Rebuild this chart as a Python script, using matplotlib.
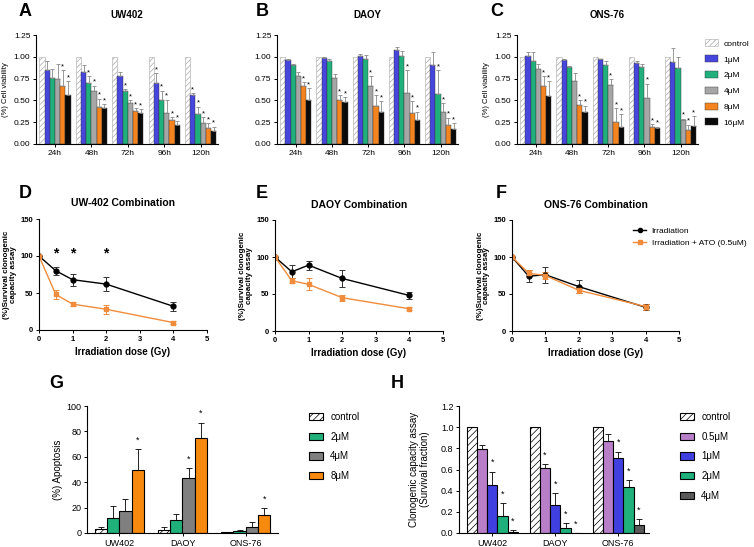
import numpy as np
import matplotlib
matplotlib.use("Agg")
import matplotlib.pyplot as plt
from matplotlib.patches import Patch
from matplotlib.lines import Line2D

plt.rcParams['font.family'] = ['Liberation Sans', 'DejaVu Sans']
plt.rcParams['hatch.linewidth'] = 0.5

# ---- data: viability (A-C), rows = time point, cols = dose ----
times = ['24h', '48h', '72h', '96h', '120h']
via_doses = ['control', '1\u03bcM', '2\u03bcM', '4\u03bcM', '8\u03bcM', '16\u03bcM']

uw402_mean = [[1.0, 0.85, 0.76, 0.75, 0.66, 0.56],
              [1.0, 0.83, 0.70, 0.61, 0.43, 0.41],
              [1.0, 0.78, 0.61, 0.47, 0.38, 0.35],
              [1.0, 0.70, 0.51, 0.36, 0.27, 0.22],
              [1.0, 0.56, 0.34, 0.24, 0.18, 0.15]]
uw402_err = [[0, 0.10, 0.10, 0.17, 0.19, 0.16],
             [0, 0.08, 0.08, 0.06, 0.09, 0.05],
             [0, 0.05, 0.02, 0.03, 0.03, 0.05],
             [0, 0.11, 0.10, 0.15, 0.04, 0.04],
             [0, 0.02, 0.09, 0.07, 0.06, 0.05]]
uw402_sig = [[0, 0, 0, 0, 1, 1],
             [0, 0, 1, 1, 1, 1],
             [0, 0, 1, 1, 1, 1],
             [0, 1, 1, 1, 1, 1],
             [0, 1, 1, 1, 1, 1]]

daoy_mean = [[1.0, 0.96, 0.91, 0.78, 0.66, 0.51],
             [1.0, 0.99, 0.95, 0.76, 0.51, 0.48],
             [1.0, 1.01, 0.98, 0.67, 0.44, 0.37],
             [1.0, 1.08, 1.01, 0.59, 0.36, 0.27],
             [1.0, 0.91, 0.57, 0.37, 0.22, 0.17]]
daoy_err = [[0, 0.01, 0.01, 0.05, 0.05, 0.13],
            [0, 0.01, 0.03, 0.04, 0.05, 0.06],
            [0, 0.02, 0.04, 0.11, 0.12, 0.12],
            [0, 0.03, 0.06, 0.26, 0.13, 0.10],
            [0, 0.14, 0.28, 0.10, 0.08, 0.07]]
daoy_sig = [[0, 0, 0, 0, 1, 1],
            [0, 0, 0, 0, 1, 1],
            [0, 0, 0, 1, 1, 1],
            [0, 0, 0, 1, 1, 1],
            [0, 0, 1, 1, 1, 1]]

ons_mean = [[1.0, 1.01, 0.95, 0.86, 0.66, 0.55],
            [1.0, 0.96, 0.88, 0.72, 0.45, 0.37],
            [1.0, 0.97, 0.91, 0.68, 0.25, 0.20],
            [1.0, 0.93, 0.88, 0.53, 0.19, 0.18],
            [1.0, 0.94, 0.87, 0.27, 0.16, 0.21]]
ons_err = [[0, 0.05, 0.10, 0.06, 0.12, 0.17],
           [0, 0.01, 0.01, 0.09, 0.05, 0.07],
           [0, 0.01, 0.04, 0.06, 0.16, 0.14],
           [0, 0.02, 0.04, 0.16, 0.04, 0.02],
           [0, 0.16, 0.13, 0.02, 0.06, 0.11]]
ons_sig = [[0, 0, 0, 0, 1, 1],
           [0, 0, 0, 0, 1, 1],
           [0, 0, 0, 1, 1, 1],
           [0, 0, 0, 1, 1, 1],
           [0, 0, 0, 1, 1, 1]]

# ---- data: combination with irradiation (D-F) ----
gy = [0, 0.5, 1, 2, 4]
uw_irr = [100, 80, 68, 62, 32]
uw_irr_err = [0, 5, 8, 9, 6]
uw_ato = [100, 48, 35, 28, 10]
uw_ato_err = [0, 6, 3, 6, 2]
daoy_irr = [100, 80, 89, 71, 48]
daoy_irr_err = [0, 9, 6, 12, 5]
daoy_ato = [100, 68, 63, 45, 30]
daoy_ato_err = [0, 3, 8, 4, 2]
ons_irr = [100, 74, 76, 60, 32]
ons_irr_err = [0, 8, 11, 9, 4]
ons_ato = [100, 78, 75, 55, 33]
ons_ato_err = [0, 4, 5, 4, 4]
uw_star_x = [0.5, 1, 2]

# ---- data: apoptosis (G), rows = dose, cols = cell line ----
cells = ['UW402', 'DAOY', 'ONS-76']
apo_doses = ['control', '2\u03bcM', '4\u03bcM', '8\u03bcM']
apo_mean = [[3, 2.5, 0.7], [12, 10, 1.5], [17, 43, 5], [50, 75, 14]]
apo_err = [[2, 2, 0.3], [9, 5, 1], [10, 8, 4], [16, 12, 5.5]]
apo_sig = [[0, 0, 0], [0, 0, 0], [0, 1, 0], [1, 1, 1]]

# ---- data: clonogenic (H) ----
clo_doses = ['control', '0.5\u03bcM', '1\u03bcM', '2\u03bcM', '4\u03bcM']
clo_mean = [[1, 1, 1], [0.79, 0.61, 0.87], [0.45, 0.26, 0.71], [0.16, 0.05, 0.43], [0.01, 0.0, 0.08]]
clo_err = [[0, 0, 0], [0.04, 0.04, 0.07], [0.13, 0.12, 0.06], [0.12, 0.04, 0.07], [0.02, 0, 0.05]]
clo_sig = [[0, 0, 0], [0, 1, 0], [1, 1, 1], [1, 1, 1], [1, 1, 1]]

W, H = 754, 547
fig = plt.figure(figsize=(W / 100, H / 100), dpi=100)


def px_axes(x0, y0, x1, y1):
    return fig.add_axes([x0 / W, 1 - y1 / H, (x1 - x0) / W, (y1 - y0) / H])


def letter(x, y, s):
    fig.text(x / W, 1 - y / H, s, fontsize=13, fontweight='bold', ha='left', va='top')


def style(ax, size=5, bold=False):
    for s in ['top', 'right']:
        ax.spines[s].set_visible(False)
    for s in ['left', 'bottom']:
        ax.spines[s].set_linewidth(0.8)
    ax.tick_params(labelsize=size, length=2.5, width=0.7, pad=1.5)
    if bold:
        for t in ax.get_xticklabels() + ax.get_yticklabels():
            t.set_fontweight('bold')


via_colors = ['white', '#4646dc', '#1fb07c', '#a6a6a6', '#f5841f', '#0a0a0a']


def viability(ax, mean, err, sig, title, ylabel):
    w = 0.143
    x = np.arange(len(times))
    mean = np.array(mean)
    err = np.array(err)
    for j in range(len(via_doses)):
        xs = x + (j - 2.5) * w
        if j == 0:
            ax.bar(xs, mean[:, j], w, color='white', edgecolor='#a8a8a8', hatch='//////', lw=0.4)
        else:
            ax.bar(xs, mean[:, j], w, color=via_colors[j], edgecolor='#333333', lw=0.3)
            ax.errorbar(xs, mean[:, j], yerr=[np.zeros(len(x)), err[:, j]], fmt='none',
                        ecolor='#888888', elinewidth=0.6, capsize=1.2, capthick=0.6)
        for i in range(len(x)):
            if sig[i][j]:
                ax.text(xs[i], mean[i, j] + err[i, j] + 0.04, '*', fontsize=5.5,
                        ha='center', va='center')
    ax.set_xlim(-0.52, 4.48)
    ax.set_ylim(0, 1.25)
    ax.set_yticks([0, 0.25, 0.5, 0.75, 1.0, 1.25])
    ax.set_yticklabels(['0.00', '0.25', '0.50', '0.75', '1.00', '1.25'])
    ax.set_xticks(x)
    ax.set_xticklabels(times)
    style(ax, 6)
    ax.set_title(title, fontsize=7, fontweight='bold', pad=12)
    if ylabel:
        ax.set_ylabel('(%) Cell viability', fontsize=5.5)
        ax.yaxis.set_label_coords(-0.15, 0.5)


axA = px_axes(36, 35, 218, 144)
viability(axA, uw402_mean, uw402_err, uw402_sig, 'UW402', True)
axB = px_axes(277, 35, 458, 144)
viability(axB, daoy_mean, daoy_err, daoy_sig, 'DAOY', False)
axC = px_axes(517, 35, 698, 144)
viability(axC, ons_mean, ons_err, ons_sig, 'ONS-76', True)

handles = [Patch(facecolor='white', edgecolor='#a8a8a8', hatch='//////', lw=0.4)]
handles += [Patch(facecolor=c, edgecolor='#333333', lw=0.3) for c in via_colors[1:]]
fig.legend(handles, via_doses, loc='upper left', bbox_to_anchor=(702 / W, 1 - 36 / H),
           frameon=False, fontsize=6, handlelength=1.5, handleheight=0.9,
           labelspacing=0.9, handletextpad=0.7, borderaxespad=0)

orange = '#f08c3c'


def combo(ax, irr, irr_err, ato, ato_err, title, stars):
    ax.errorbar(gy, irr, yerr=irr_err, color='black', marker='o', ms=3.5, lw=1,
                elinewidth=0.7, capsize=2, capthick=0.7, ecolor='#333333',
                label='Irradiation')
    ax.errorbar(gy, ato, yerr=ato_err, color=orange, marker='s', ms=3.5, lw=1,
                elinewidth=0.7, capsize=2, capthick=0.7, label='Irradiation + ATO (0.5uM)')
    for sx in stars:
        ax.text(sx, 103, '*', fontsize=10, fontweight='bold', ha='center', va='center')
    ax.set_xlim(0, 5)
    ax.set_ylim(0, 150)
    ax.set_xticks([0, 1, 2, 3, 4, 5])
    ax.set_yticks([0, 50, 100, 150])
    style(ax, 5.5, bold=True)
    ax.set_title(title, fontsize=7.5, fontweight='bold', pad=9)
    ax.set_xlabel('Irradiation dose (Gy)', fontsize=7, fontweight='bold', labelpad=3)
    ax.set_ylabel('(%)Survival clonogenic\ncapacity assay', fontsize=5.8,
                  fontweight='bold', linespacing=0.95)
    ax.yaxis.set_label_coords(-0.13, 0.5)


axD = px_axes(39, 219, 207, 330)
combo(axD, uw_irr, uw_irr_err, uw_ato, uw_ato_err, 'UW-402 Combination', uw_star_x)
axE = px_axes(275, 220, 443, 331)
combo(axE, daoy_irr, daoy_irr_err, daoy_ato, daoy_ato_err, 'DAOY Combination', [])
axF = px_axes(512, 220, 679, 331)
combo(axF, ons_irr, ons_irr_err, ons_ato, ons_ato_err, 'ONS-76 Combination', [])
lh = [Line2D([], [], color='black', marker='o', ms=3, lw=1),
      Line2D([], [], color=orange, marker='s', ms=3, lw=1)]
fig.legend(lh, ['Irradiation', 'Irradiation + ATO (0.5uM)'], loc='upper left',
           bbox_to_anchor=(630 / W, 1 - 224 / H), frameon=False, fontsize=6,
           handlelength=1.5, labelspacing=0.5, handletextpad=0.7, borderaxespad=0)


def grouped(ax, mean, err, sig, colors, w, top, yticks, pad_right):
    x = np.arange(len(cells))
    n = len(mean)
    for j in range(n):
        xs = x + (j - (n - 1) / 2) * w
        if j == 0:
            ax.bar(xs, mean[j], w, color='white', edgecolor='black', hatch='/////', lw=0.8)
        else:
            ax.bar(xs, mean[j], w, color=colors[j], edgecolor='black', lw=0.8)
        ax.errorbar(xs, mean[j], yerr=[np.zeros(len(x)), err[j]], fmt='none',
                    ecolor='black', elinewidth=0.6, capsize=2.2, capthick=0.6)
        for i in range(len(x)):
            if sig[j][i]:
                ax.text(xs[i], mean[j][i] + err[j][i] + top * 0.07, '*', fontsize=6.5,
                        ha='center', va='center')
    ax.set_xlim(-(n / 2) * w - 0.12, 2 + (n / 2) * w + pad_right)
    ax.set_ylim(0, top)
    ax.set_yticks(yticks)
    ax.set_xticks(x)
    ax.set_xticklabels(cells)
    style(ax, 6.5)


apo_colors = ['white', '#20b07a', '#7f7f7f', '#f7890f']
axG = px_axes(87, 406, 278, 533)
grouped(axG, apo_mean, apo_err, apo_sig, apo_colors, 0.195, 100, [0, 20, 40, 60, 80, 100], 0.12)
axG.set_ylabel('(%) Apoptosis', fontsize=7)
axG.yaxis.set_label_coords(-0.125, 0.5)
hg = [Patch(facecolor='white', edgecolor='black', hatch='/////', lw=0.8)]
hg += [Patch(facecolor=c, edgecolor='black', lw=0.8) for c in apo_colors[1:]]
fig.legend(hg, apo_doses, loc='upper left', bbox_to_anchor=(305 / W, 1 - 408 / H),
           frameon=False, fontsize=7, handlelength=1.5, handleheight=0.8,
           labelspacing=1.0, handletextpad=0.7, borderaxespad=0)

clo_colors = ['white', '#b87fc8', '#4040e0', '#1fb07c', '#595959']
axH = px_axes(459, 406, 649, 533)
grouped(axH, clo_mean, clo_err, clo_sig, clo_colors, 0.163, 1.2,
        [0, 0.2, 0.4, 0.6, 0.8, 1.0, 1.2], 0.08)
axH.set_yticklabels(['0.0', '0.2', '0.4', '0.6', '0.8', '1.0', '1.2'])
axH.set_ylabel('Clonogenic capacity assay\n(Survival fraction)', fontsize=7)
axH.yaxis.set_label_coords(-0.15, 0.5)
hh = [Patch(facecolor='white', edgecolor='black', hatch='/////', lw=0.8)]
hh += [Patch(facecolor=c, edgecolor='black', lw=0.8) for c in clo_colors[1:]]
fig.legend(hh, clo_doses, loc='upper left', bbox_to_anchor=(676 / W, 1 - 408 / H),
           frameon=False, fontsize=7, handlelength=1.5, handleheight=0.8,
           labelspacing=1.0, handletextpad=0.7, borderaxespad=0)

letter(19, 3, 'A')
letter(256, 3, 'B')
letter(490, 3, 'C')
letter(19, 185, 'D')
letter(256, 185, 'E')
letter(496, 185, 'F')
letter(49, 375, 'G')
letter(391, 375, 'H')

fig.savefig('out.png', dpi=100)
